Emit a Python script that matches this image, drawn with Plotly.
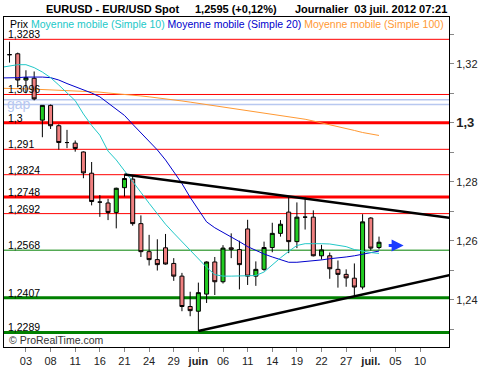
import pandas as pd
import plotly.graph_objects as go

# ---------------- data ----------------
dates = ["2012-05-01","2012-05-02","2012-05-03","2012-05-04","2012-05-07","2012-05-08","2012-05-09",
         "2012-05-10","2012-05-11","2012-05-14","2012-05-15","2012-05-16","2012-05-17","2012-05-18",
         "2012-05-21","2012-05-22","2012-05-23","2012-05-24","2012-05-25","2012-05-28","2012-05-29",
         "2012-05-30","2012-05-31","2012-06-01","2012-06-04","2012-06-05","2012-06-06","2012-06-07",
         "2012-06-08","2012-06-11","2012-06-12","2012-06-13","2012-06-14","2012-06-15","2012-06-18",
         "2012-06-19","2012-06-20","2012-06-21","2012-06-22","2012-06-25","2012-06-26","2012-06-27",
         "2012-06-28","2012-06-29","2012-07-02","2012-07-03"]
opens  = [1.3231,1.3234,1.3145,1.3151,1.3009,1.3059,1.2990,1.2933,1.2931,1.2901,1.2829,1.2731,1.2728,1.2696,
          1.2780,1.2809,1.2658,1.2563,1.2536,1.2576,1.2523,1.2480,1.2377,1.2361,1.2419,1.2528,1.2461,1.2576,
          1.2570,1.2640,1.2480,1.2503,1.2577,1.2625,1.2697,1.2597,1.2680,1.2680,1.2549,1.2549,1.2503,1.2486,
          1.2473,1.2443,1.2677,1.2577]
highs  = [1.3275,1.3238,1.3178,1.3174,1.3060,1.3062,1.2995,1.2976,1.2940,1.2903,1.2867,1.2755,1.2742,1.2780,
          1.2825,1.2823,1.2686,1.2620,1.2605,1.2623,1.2541,1.2491,1.2427,1.2458,1.2530,1.2545,1.2585,1.2625,
          1.2600,1.2671,1.2530,1.2597,1.2661,1.2670,1.2750,1.2730,1.2747,1.2703,1.2586,1.2560,1.2533,1.2503,
          1.2523,1.2690,1.2680,1.2614]
lows   = [1.3204,1.3120,1.3100,1.3076,1.2951,1.2979,1.2909,1.2914,1.2902,1.2812,1.2720,1.2681,1.2670,1.2642,
          1.2750,1.2651,1.2545,1.2516,1.2499,1.2519,1.2464,1.2361,1.2344,1.2294,1.2389,1.2416,1.2455,1.2541,
          1.2435,1.2450,1.2447,1.2498,1.2561,1.2614,1.2558,1.2575,1.2638,1.2547,1.2536,1.2471,1.2441,1.2444,
          1.2413,1.2435,1.2567,1.2571]
closes = [1.3231,1.3145,1.3153,1.3081,1.3059,1.2990,1.2933,1.2933,1.2913,1.2830,1.2733,1.2731,1.2696,1.2778,
          1.2811,1.2658,1.2563,1.2536,1.2519,1.2521,1.2480,1.2377,1.2363,1.2424,1.2528,1.2461,1.2575,1.2571,
          1.2519,1.2480,1.2503,1.2577,1.2625,1.2656,1.2597,1.2680,1.2680,1.2549,1.2569,1.2505,1.2486,1.2474,
          1.2443,1.2664,1.2575,1.2595]

ma_dates = ["2012-04-30"] + dates
ma10 = [1.3188,1.3192,1.3197,1.3197,1.3187,1.3172,1.3153,1.3128,1.3101,1.3075,1.3030,1.2991,1.2958,1.2904,
        1.2874,1.2838,1.2804,1.2764,1.2727,1.2691,1.2656,1.2626,1.2597,1.2567,1.2537,1.2510,1.2485,1.2480,
        1.2480,1.2480,1.2482,1.2482,1.2494,1.2519,1.2542,1.2564,1.2584,1.2590,1.2591,1.2590,1.2589,1.2585,
        1.2580,1.2570,1.2564,1.2560,1.2557]
ma20 = [1.3152,1.3152,1.3153,1.3155,1.3156,1.3155,1.3153,1.3145,1.3133,1.3123,1.3111,1.3101,1.3088,1.3068,
        1.3048,1.3025,1.2995,1.2965,1.2938,1.2908,1.2874,1.2834,1.2794,1.2747,1.2707,1.2664,1.2644,1.2629,
        1.2612,1.2597,1.2580,1.2567,1.2555,1.2545,1.2535,1.2527,1.2527,1.2529,1.2532,1.2535,1.2539,1.2541,
        1.2545,1.2549,1.2555,1.2560,1.2565]
ma100 = [1.3117,1.3117,1.3116,1.3115,1.3114,1.3113,1.3111,1.3110,1.3109,1.3108,1.3107,1.3105,1.3104,1.3101,
         1.3099,1.3097,1.3095,1.3091,1.3088,1.3085,1.3081,1.3077,1.3074,1.3070,1.3066,1.3060,1.3056,1.3052,
         1.3048,1.3044,1.3040,1.3036,1.3032,1.3028,1.3025,1.3021,1.3017,1.3012,1.3006,1.3000,1.2992,1.2986,
         1.2980,1.2974,1.2967,1.2961,1.2957]

red_thin = [1.3283, 1.3096, 1.291, 1.2824, 1.2692]
red_thick = [1.3, 1.2748]
green_thin = [1.2568]
green_thick = [1.2407, 1.2289]
gap_levels = [1.3078, 1.3062]

trend_upper_dates = ["2012-05-21", "2012-07-16"]
trend_upper_vals = [1.2825, 1.2676]
trend_lower_dates = ["2012-06-01", "2012-07-16"]
trend_lower_vals = [1.2294, 1.2486]

arrow_dates = ["2012-07-04", "2012-07-06"]
arrow_level = 1.2584

xtick_dates = ["2012-05-03","2012-05-08","2012-05-11","2012-05-16","2012-05-21","2012-05-24","2012-05-29",
               "2012-06-01","2012-06-06","2012-06-11","2012-06-14","2012-06-19","2012-06-22","2012-06-27",
               "2012-07-02","2012-07-05","2012-07-10"]
xtick_labels = ["03","08","11","16","21","24","29","<b>juin</b>","06","11","14","19","22","27",
                "<b>juil.</b>","05","10"]
ytick_vals = [1.23,1.24,1.25,1.26,1.27,1.28,1.29,1.30,1.31,1.32,1.33]
ytick_labels = ["","1,24","","1,26","","1,28","",
                '<span style="font-size:13px"><b>1,3</b></span>',"","1,32",""]

title_parts = ["EURUSD - EUR/USD Spot", "1,2595 (+0,12%)", "Journalier  03 juil. 2012 07:21"]

# ---------------- helpers ----------------
cal = pd.bdate_range("2012-04-30", "2012-07-31")
pos = {d.strftime("%Y-%m-%d"): i for i, d in enumerate(cal)}
def X(ds):
    return [pos[d] for d in ds]

FONT = "Arial, Liberation Sans, sans-serif"
RED = "#ff0000"
GREEN = "#008000"
C10 = "#22c8c8"
C20 = "#0000cc"
C100 = "#ff9933"

fig = go.Figure()
fig.add_trace(go.Scatter(x=X(ma_dates), y=ma100, mode="lines", line=dict(color=C100, width=1), hoverinfo="skip"))
fig.add_trace(go.Scatter(x=X(ma_dates), y=ma20, mode="lines", line=dict(color=C20, width=1), hoverinfo="skip"))
fig.add_trace(go.Scatter(x=X(ma_dates), y=ma10, mode="lines", line=dict(color=C10, width=1), hoverinfo="skip"))
fig.add_trace(go.Candlestick(
    x=X(dates), open=opens, high=highs, low=lows, close=closes,
    increasing=dict(fillcolor="#22cc22", line=dict(color="#000000", width=1)),
    decreasing=dict(fillcolor="#f08080", line=dict(color="#000000", width=1)),
    whiskerwidth=0,
))
fig.add_trace(go.Scatter(x=X(trend_upper_dates), y=trend_upper_vals, mode="lines",
                         line=dict(color="#000000", width=2.5), hoverinfo="skip"))
fig.add_trace(go.Scatter(x=X(trend_lower_dates), y=trend_lower_vals, mode="lines",
                         line=dict(color="#000000", width=2.5), hoverinfo="skip"))

def hline(v, color, width):
    fig.add_shape(type="line", xref="paper", x0=0, x1=1, yref="y", y0=v, y1=v,
                  line=dict(color=color, width=width), layer="below")

for v in gap_levels:
    hline(v, "#b8c8f0", 1.5)
for v in red_thin:
    hline(v, RED, 1)
for v in red_thick:
    hline(v, RED, 3)
for v in green_thin:
    hline(v, GREEN, 1)
for v in green_thick:
    hline(v, GREEN, 3)

annos = []
for v in red_thin + red_thick + green_thin + green_thick:
    annos.append(dict(xref="paper", x=0.0067, yref="y", y=v, yanchor="bottom", xanchor="left",
                      text=str(v).replace(".", ","), showarrow=False,
                      font=dict(family=FONT, size=10.5, color="#000000"), borderpad=0, yshift=-2))
annos.append(dict(xref="paper", x=0.004, yref="y", y=sum(gap_levels) / 2, yanchor="middle", xanchor="left",
                  text="gap", showarrow=False, font=dict(family=FONT, size=14, color="#b8c8f0"),
                  borderpad=0, yshift=-2))
annos.append(dict(xref="paper", x=0.0067, yref="paper", y=0.021, yanchor="middle", xanchor="left",
                  text="© ProRealTime.com", showarrow=False, font=dict(family=FONT, size=10.5, color="#333333")))
legend_txt = ("Prix <span style='color:%s'>Moyenne mobile (Simple 10)</span> "
              "<span style='color:%s'>Moyenne mobile (Simple 20)</span> "
              "<span style='color:%s'>Moyenne mobile (Simple 100)</span>") % (C10, C20, C100)
annos.append(dict(xref="paper", x=0.0083, yref="paper", y=0.978, yanchor="middle", xanchor="left",
                  text=legend_txt, showarrow=False, font=dict(family=FONT, size=10.5, color="#000000")))
for px, t in zip([42.7, 192.7, 292.3], title_parts):
    annos.append(dict(xref="paper", x=(px - 3) / 446, yref="paper", y=1.024, yanchor="middle", xanchor="left",
                      text="<b>%s</b>" % t, showarrow=False, font=dict(family=FONT, size=11, color="#000000")))
annos.append(dict(xref="x", yref="y", x=X(arrow_dates)[1], y=arrow_level,
                  axref="x", ayref="y", ax=X(arrow_dates)[0], ay=arrow_level,
                  text="", showarrow=True, arrowhead=2, arrowsize=0.8, arrowwidth=3, arrowcolor="#1a3cff"))

x0 = pos["2012-05-03"]
fig.update_layout(
    width=500, height=370,
    margin=dict(l=3, r=51, t=17, b=18),
    paper_bgcolor="#ffffff", plot_bgcolor="#ffffff",
    showlegend=False,
    annotations=annos,
    font=dict(family=FONT, size=11, color="#222222"),
    xaxis=dict(range=[x0 - 2.673, x0 + 51.525], tickvals=X(xtick_dates), ticktext=xtick_labels,
               showgrid=False, zeroline=False, showline=True, mirror=True, linecolor="#000000", linewidth=1,
               ticks="outside", ticklen=4, tickcolor="#888888", rangeslider=dict(visible=False),
               tickfont=dict(family=FONT, size=11, color="#222222")),
    yaxis=dict(range=[1.22397, 1.33587], side="right", tickvals=ytick_vals, ticktext=ytick_labels,
               showgrid=False, zeroline=False, showline=True, mirror=True, linecolor="#000000", linewidth=1,
               ticks="outside", ticklen=4, tickcolor="#888888",
               tickfont=dict(family=FONT, size=11, color="#222222")),
)

fig.write_html("out.html", config={"displayModeBar": False},
               post_script="document.body.style.margin='0';document.body.style.overflow='hidden';")
